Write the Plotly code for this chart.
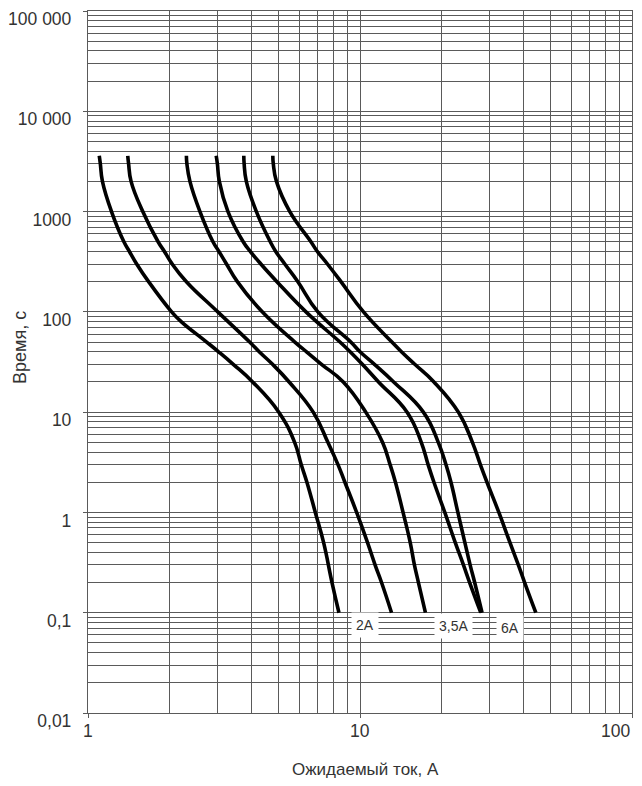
import numpy as np
import plotly.graph_objects as go

# время срабатывания, с
t_1 = [3600, 3000, 2000, 1000, 500, 400, 300, 200, 100, 80, 50, 40, 30, 20, 10, 5, 3, 2, 1, 0.5, 0.2, 0.1]
t = [3600, 3000, 2000, 1000, 500, 400, 300, 200, 100, 50, 40, 30, 20, 10, 5, 3, 2, 1, 0.5, 0.3, 0.2, 0.1]

# ожидаемый ток, А
i_1 = [1.10, 1.11, 1.13, 1.22, 1.355, 1.42, 1.51, 1.67, 2.03, 2.20, 2.73, 3.02, 3.42, 4.03, 5.03, 5.75, 6.08, 6.38, 6.85, 7.35, 7.89, 8.37]
i_2 = [1.40, 1.41, 1.44, 1.59, 1.81, 1.91, 2.04, 2.30, 3.00, 3.93, 4.26, 4.77, 5.49, 6.73, 7.62, 8.30, 8.80, 9.72, 10.66, 11.36, 12.0, 13.06]
i_3 = [2.30, 2.31, 2.37, 2.58, 2.88, 3.03, 3.23, 3.54, 4.37, 5.76, 6.36, 7.22, 8.68, 10.5, 12.1, 12.9, 13.5, 14.4, 15.3, 15.85, 16.4, 17.4]
i_4 = [2.96, 2.99, 3.04, 3.27, 3.72, 3.95, 4.32, 4.95, 6.33, 8.44, 9.20, 10.2, 11.7, 14.9, 16.8, 17.8, 18.7, 20.5, 22.4, 24.0, 25.3, 27.8]
i_5 = [3.74, 3.75, 3.82, 4.16, 4.68, 4.90, 5.29, 5.91, 7.00, 9.25, 10.0, 11.3, 13.3, 17.1, 19.4, 20.7, 21.6, 22.9, 24.3, 25.4, 26.4, 28.1]
i_6 = [4.78, 4.80, 4.93, 5.52, 6.60, 6.97, 7.59, 8.51, 10.3, 13.1, 14.2, 15.9, 18.7, 23.0, 25.9, 27.7, 29.3, 32.4, 35.6, 38.2, 40.3, 44.3]

# подписи кривых
lab_text = ["2A", "3,5A", "6A"]
lab_i = [10.4, 22.0, 35.7]
lab_t = [0.0758, 0.074, 0.0708]

y_ticks = [0.01, 0.1, 1, 10, 100, 1000, 10000, 100000]
y_tick_text = ["0,01", "0,1", "1", "10", "100", "1000", "10 000", "100 000"]
x_ticks = [1, 10, 100]
x_tick_text = ["1", "10", "100"]
x_tick_anchor = ["center", "center", "right"]

FONT = "Liberation Sans, Arial, sans-serif"
GRID = "#5a5a5a"

fig = go.Figure()
for xs, ys in [(i_1, t_1), (i_2, t), (i_3, t), (i_4, t), (i_5, t), (i_6, t)]:
    fig.add_trace(go.Scatter(x=xs, y=ys, mode="lines",
                             line=dict(color="black", width=3.6, shape="spline", smoothing=1.3),
                             showlegend=False, hoverinfo="skip"))

minor_y = [k * 10.0 ** d for d in range(-2, 5) for k in range(2, 10)]
minor_x = [k * 10.0 ** d for d in range(0, 2) for k in range(2, 10)]

fig.update_xaxes(type="log", range=[0, 2], automargin=False,
                 tickmode="array", tickvals=x_ticks, showticklabels=False,
                 ticks="outside", ticklen=4, tickcolor=GRID,
                 showgrid=True, gridcolor=GRID, gridwidth=1.3,
                 minor=dict(tickmode="array", tickvals=minor_x, showgrid=True,
                            gridcolor=GRID, gridwidth=1.3, ticks=""),
                 showline=True, linecolor=GRID, linewidth=1.3, mirror=True,
                 zeroline=False)
fig.update_yaxes(type="log", range=[-2, 5], automargin=False,
                 tickmode="array", tickvals=y_ticks, ticktext=y_tick_text,
                 ticks="outside", ticklen=4, tickcolor=GRID,
                 ticklabelstandoff=8, ticklabelshift=8, ticklabeloverflow="allow",
                 showgrid=True, gridcolor=GRID, gridwidth=1.3,
                 minor=dict(tickmode="array", tickvals=minor_y, showgrid=True,
                            gridcolor=GRID, gridwidth=1.3, ticks=""),
                 showline=True, linecolor=GRID, linewidth=1.3, mirror=True,
                 tickfont=dict(family=FONT, size=17.5, color="#333"),
                 zeroline=False)

# подписи оси X (последняя прижата к правому краю, как в оригинале)
for val, txt, anc in zip(x_ticks, x_tick_text, x_tick_anchor):
    fig.add_annotation(x=np.log10(val), y=0, xref="x", yref="paper",
                       text=txt, showarrow=False, xanchor=anc, yanchor="top",
                       yshift=-6, font=dict(family=FONT, size=17.5, color="#333"))

for txt, xi, yi in zip(lab_text, lab_i, lab_t):
    fig.add_annotation(x=np.log10(xi), y=np.log10(yi), xref="x", yref="y",
                       text=txt, showarrow=False, bgcolor="white", borderpad=4,
                       font=dict(family=FONT, size=14, color="#333"))

fig.add_annotation(x=-0.125, y=0.52, xref="paper", yref="paper",
                   xanchor="center", yanchor="middle",
                   text="Время, с", textangle=-90, showarrow=False,
                   font=dict(family=FONT, size=18, color="#333"))
fig.add_annotation(x=0.511, y=-0.081, xref="paper", yref="paper",
                   xanchor="center", yanchor="middle",
                   text="Ожидаемый ток, А", showarrow=False,
                   font=dict(family=FONT, size=17, color="#333"))

# страница добавляет 8px отступа у body, поэтому поля уменьшены на 8px
fig.update_layout(width=626, height=778,
                  margin=dict(l=80, r=2, t=3, b=73, autoexpand=False),
                  paper_bgcolor="white", plot_bgcolor="white")

fig.write_html("out.html")
